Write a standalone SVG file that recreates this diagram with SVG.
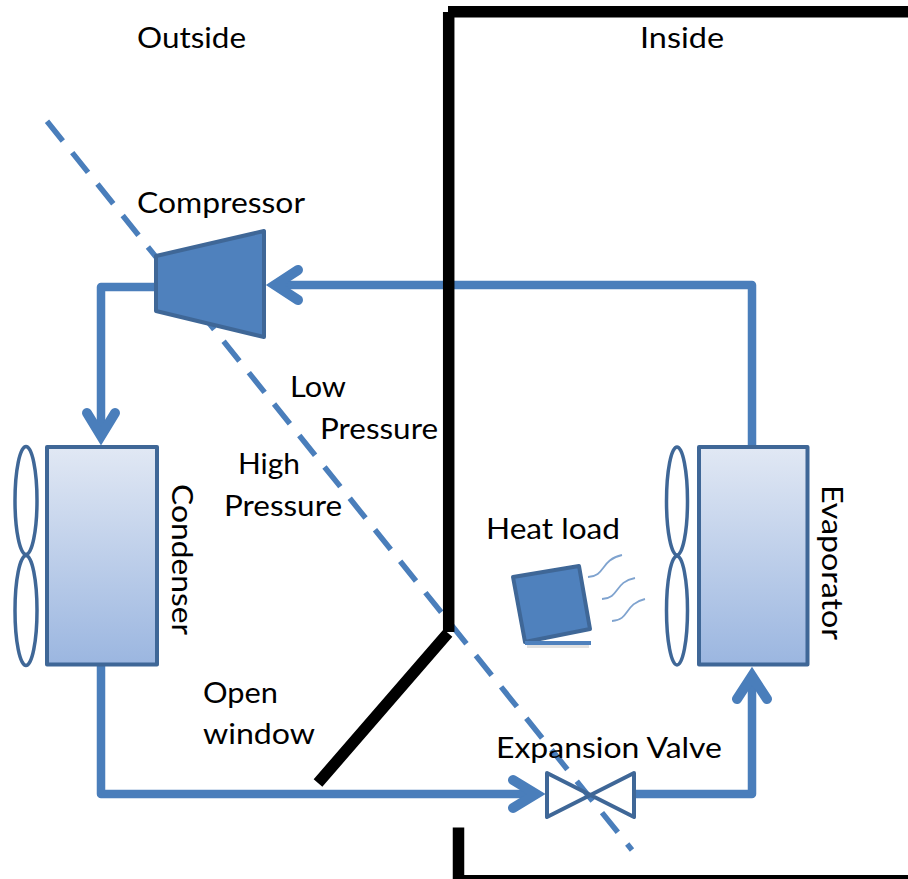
<svg xmlns="http://www.w3.org/2000/svg" width="908" height="879" viewBox="0 0 908 879">
<style>
text{font-family:Lato,"Open Sans",sans-serif;font-size:29px;fill:#000}
.pipe{fill:none;stroke:#4a7ebb;stroke-width:8.5;stroke-linejoin:round}
.head{fill:none;stroke:#4a7ebb;stroke-width:10;stroke-linecap:round;stroke-linejoin:miter}
.wall{fill:none;stroke:#000;stroke-width:11.5}
.solid{fill:#4f81bd;stroke:#3f6797;stroke-width:4;stroke-linejoin:round}
.coil{fill:url(#g);stroke:#3f6797;stroke-width:4;stroke-linejoin:round}
.fan{fill:none;stroke:#3f6797;stroke-width:3.5}
.wave{fill:none;stroke:#7fa3cf;stroke-width:1.8}
</style>
<defs>
<linearGradient id="g" x1="0" y1="0" x2="0" y2="1"><stop offset="0" stop-color="#e1e8f4"/><stop offset="1" stop-color="#9bb6e0"/></linearGradient>
</defs>
<rect width="908" height="879" fill="#fff"/>
<g id="boundary"><path d="M47 121.2L632 850" fill="none" stroke="#4a7ebb" stroke-width="5.5" stroke-dasharray="25.3 15"/></g>
<g id="connectors">
<path class="pipe" d="M158 287H101V432"/>
<path class="head" d="M87 413L101 436L115 413"/>
<path class="pipe" d="M101 665V794H532"/>
<path class="head" d="M513 780L536 794L513 808"/>
<path class="pipe" d="M634 794H752V680"/>
<path class="head" d="M737 699L752 676L767 699"/>
<path class="pipe" d="M752 447V285H279"/>
<path class="head" d="M298 270L275 285L298 300"/>
</g>
<g id="walls">
<path class="wall" d="M448 11.7H908M448.7 12V632M448 633L318 783"/>
<path class="wall" d="M458.5 827.5V880M453 880.7H908"/>
</g>
<g id="compressor"><polygon class="solid" points="156,256 264,231 264,337 156,311"/><text x="137" y="213" textLength="168" lengthAdjust="spacingAndGlyphs">Compressor</text></g>
<g id="condenser">
<ellipse class="fan" cx="26" cy="500.5" rx="11" ry="54"/><ellipse class="fan" cx="26" cy="610.5" rx="11" ry="55"/>
<rect class="coil" x="47" y="447" width="110" height="217.500"/>
<text transform="translate(172 484) rotate(90)" textLength="151" lengthAdjust="spacingAndGlyphs">Condenser</text>
</g>
<g id="evaporator">
<ellipse class="fan" cx="677" cy="501" rx="10.500" ry="54"/><ellipse class="fan" cx="677" cy="610.500" rx="10.500" ry="54.500"/>
<rect class="coil" x="699" y="447" width="108.500" height="217.500"/>
<text transform="translate(822 485) rotate(90)" textLength="155" lengthAdjust="spacingAndGlyphs">Evaporator</text>
</g>
<g id="heat-load">
<path d="M527 646.500H589" stroke="#888" stroke-opacity=".25" stroke-width="3" fill="none"/>
<polygon class="solid" points="513,577 579,566 590,629 525,642"/>
<path d="M525 643H591" stroke="#4f81bd" stroke-width="4" fill="none"/>
<path class="wave" d="M588 577C606 576 600 560 622 555"/>
<path class="wave" d="M602 599C620 598 614 582 635 578"/>
<path class="wave" d="M612 621C630 620 624 604 645 599"/>
<text x="486" y="539" textLength="134" lengthAdjust="spacingAndGlyphs">Heat load</text>
</g>
<g id="expansion-valve">
<polygon points="547,773 634,817 634,773 547,817" fill="none" stroke="#3f6797" stroke-width="4" stroke-linejoin="round"/>
<text x="496" y="758" textLength="226" lengthAdjust="spacingAndGlyphs">Expansion Valve</text>
</g>
<g id="labels">
<text x="137" y="48" textLength="109" lengthAdjust="spacingAndGlyphs">Outside</text>
<text x="640" y="48" textLength="84" lengthAdjust="spacingAndGlyphs">Inside</text>
<text x="290" y="397" textLength="56" lengthAdjust="spacingAndGlyphs">Low</text>
<text x="320" y="439" textLength="118" lengthAdjust="spacingAndGlyphs">Pressure</text>
<text x="238" y="474" textLength="62" lengthAdjust="spacingAndGlyphs">High</text>
<text x="224" y="516" textLength="118" lengthAdjust="spacingAndGlyphs">Pressure</text>
<text x="203" y="703" textLength="75" lengthAdjust="spacingAndGlyphs">Open</text>
<text x="203" y="744" textLength="112" lengthAdjust="spacingAndGlyphs">window</text>
</g>
</svg>
